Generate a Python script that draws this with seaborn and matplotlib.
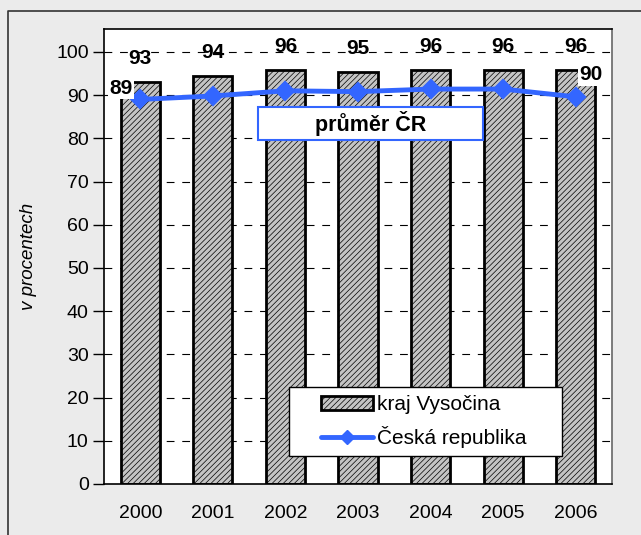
import numpy as np
import pandas as pd
import seaborn as sns
import matplotlib
matplotlib.use("Agg")
import matplotlib.pyplot as plt
from matplotlib.patches import Rectangle, Patch
from matplotlib.lines import Line2D

years = ["2000", "2001", "2002", "2003", "2004", "2005", "2006"]
vysocina = [93.0, 94.4, 95.8, 95.4, 95.8, 95.8, 95.8]
cr = [89.0, 89.8, 91.0, 90.8, 91.4, 91.4, 89.6]
yticks = [0, 10, 20, 30, 40, 50, 60, 70, 80, 90, 100]

sns.set_style("white")
plt.rcParams["font.family"] = ["Liberation Sans", "DejaVu Sans"]
plt.rcParams["text.color"] = "black"
plt.rcParams["axes.labelcolor"] = "black"
plt.rcParams["xtick.color"] = "black"
plt.rcParams["ytick.color"] = "black"
plt.rcParams["hatch.color"] = "#b3b3b3"
plt.rcParams["hatch.linewidth"] = 0.5

df = pd.DataFrame({"rok": years, "kraj": vysocina, "cr": cr})

fig = plt.figure(figsize=(6.41, 5.35), dpi=100, facecolor="#ebebeb")
fig.lines.append(Line2D([8 / 641, 8 / 641, 1.0], [0.0, 1 - 10.5 / 535, 1 - 10.5 / 535],
                        transform=fig.transFigure, color="#333333", linewidth=1.2))
ax = fig.add_axes([104 / 641, 1 - 484 / 535, 508 / 641, 455 / 535])
ax.set_facecolor("white")

sns.barplot(data=df, x="rok", y="kraj", ax=ax, width=0.54, color="#c4c4c4",
            edgecolor="black", linewidth=2.0, saturation=1, zorder=2)
for p in ax.patches:
    p.set_hatch("//////")

sns.pointplot(data=df, x="rok", y="cr", ax=ax, color="#3366ff", markers="D",
              linestyles="-", markersize=8, linewidth=3.5, zorder=4)

ax.set_xlim(-0.5, 6.5)
ax.set_ylim(0, 105.3)
ax.set_yticks(yticks)
ax.set_yticklabels([str(t) for t in yticks], fontsize=14)
ax.set_xticks(range(len(years)))
ax.set_xticklabels(years, fontsize=14)
ax.tick_params(axis="x", length=0, pad=15)
ax.set_xticks(np.arange(-0.5, len(years), 1.0), minor=True)
ax.tick_params(axis="x", which="minor", length=6, width=1, direction="out", color="black")
ax.tick_params(axis="y", length=8, width=1, direction="out", color="black", left=True, pad=3)
for t in yticks[1:]:
    ax.axhline(t, color="black", linestyle=(0, (7, 7)), linewidth=0.8, zorder=1)
for s in ax.spines.values():
    s.set_color("black")
    s.set_linewidth(1.2)
ax.spines["right"].set_color("#666666")
ax.set_xlabel("")
ax.set_ylabel("v procentech", fontsize=13.5, style="italic", labelpad=14)

for i, v in enumerate(vysocina):
    ax.annotate(f"{round(v)}", (i, v), xytext=(0, 17), textcoords="offset points",
                ha="center", va="center", fontsize=15, fontweight="bold", zorder=5)

ax.annotate(f"{round(cr[0])}", (0, cr[0]), xytext=(-14, 8), textcoords="offset points",
            ha="center", va="center", fontsize=15, fontweight="bold", zorder=5,
            bbox=dict(facecolor="white", edgecolor="none", pad=1))
ax.annotate(f"{round(cr[-1])}", (6, cr[-1]), xytext=(11, 16), textcoords="offset points",
            ha="center", va="center", fontsize=15, fontweight="bold", zorder=5,
            bbox=dict(facecolor="white", edgecolor="none", pad=1))

ax.add_patch(Rectangle((0.303, 0.756), 0.443, 0.073, transform=ax.transAxes,
                       facecolor="white", edgecolor="#3366ff", linewidth=1.5, zorder=6))
ax.text(0.525, 0.792, "průměr ČR", transform=ax.transAxes, ha="center", va="center",
        fontsize=15.5, fontweight="bold", zorder=7)

ax.add_patch(Rectangle((0.364, 0.0615), 0.538, 0.152, transform=ax.transAxes,
                       facecolor="white", edgecolor="black", linewidth=1.0, zorder=6))
handles = [Patch(facecolor="#c4c4c4", edgecolor="black", linewidth=2.0, hatch="//////"),
           Line2D([], [], color="#3366ff", linewidth=3.5, marker="D", markersize=7)]
leg = ax.legend(handles, ["kraj Vysočina", "Česká republika"], loc="center",
                bbox_to_anchor=(0.630, 0.137), frameon=False, fontsize=15,
                handlelength=2.5, handletextpad=0.2, labelspacing=0.55)
leg.set_zorder(8)

fig.savefig("out.png", dpi=100, facecolor=fig.get_facecolor())
